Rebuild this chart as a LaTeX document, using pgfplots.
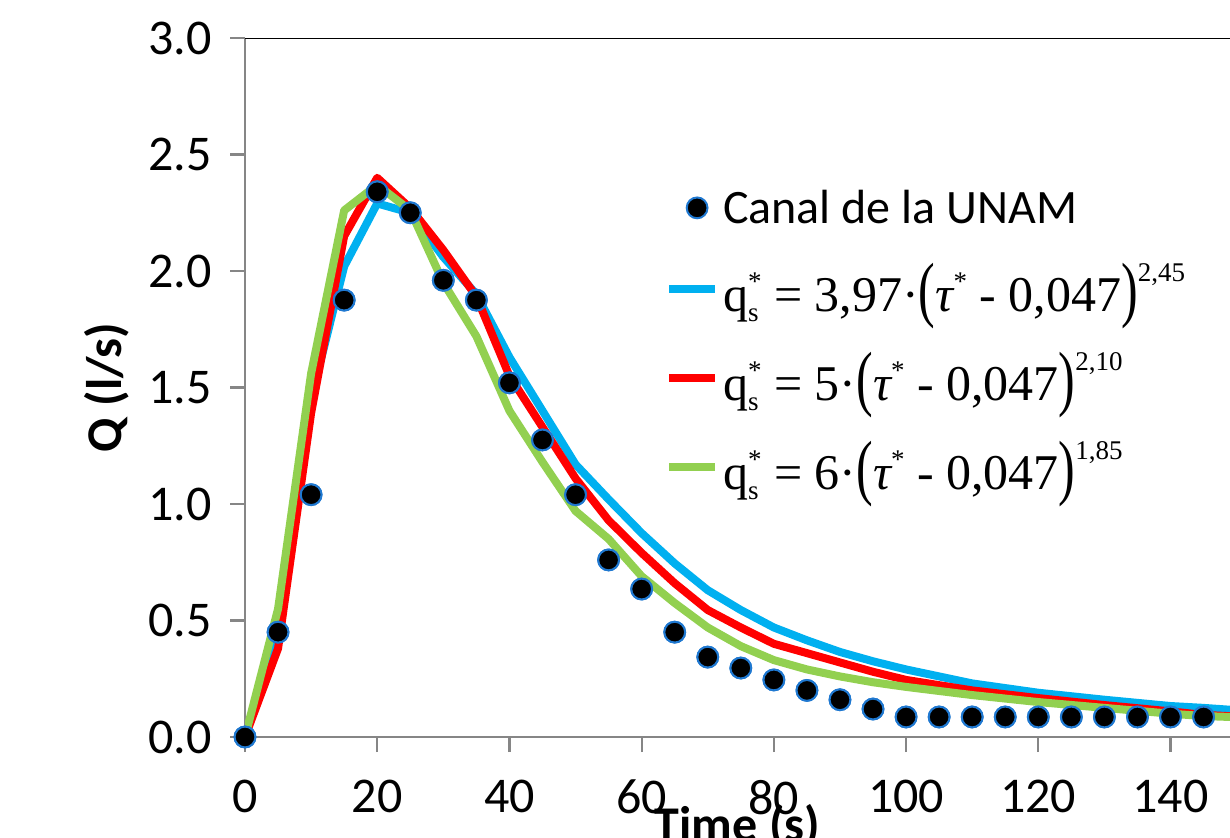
\documentclass[border=0pt]{standalone}
\usepackage{fontspec}
\setmainfont{Carlito}
\newfontfamily\tnr{Liberation Serif}
\usepackage{pgfplots}
\pgfplotsset{compat=1.18}
\definecolor{cblue}{HTML}{00B0F0}
\definecolor{cred}{HTML}{FF0000}
\definecolor{cgreen}{HTML}{92D050}
\definecolor{medge}{HTML}{1F78D0}
\definecolor{axgray}{HTML}{868686}

\pgfplotsset{
  linelegend/.style={legend image code/.code={\draw[##1] (0pt,0pt) -- (23pt,0pt);}},
  dotlegend/.style={legend image code/.code={\draw[##1] plot coordinates {(14pt,0pt)};}},
  dots/.style={only marks,mark=*,mark size=5.2pt,
    mark options={fill=black,draw=medge,line width=1pt}},
}

\newcommand\sm{\fontsize{13.5}{15}\selectfont}
\newcommand\qs{q\rlap{\raisebox{-5pt}{\sm s}}\raisebox{10.5pt}{\sm *}}
\newcommand\tst{{\itshape τ}\raisebox{10.5pt}{\sm *}}
\newcommand\bp[1]{\raisebox{-0.7pt}{\scalebox{1}[1.45]{#1}}}
\newcommand\eqn[2]{{\tnr\fontsize{25}{27}\selectfont\qs\ = #1·\bp{(}\tst\ - 0,047\bp{)}\raisebox{15pt}{\sm #2}}}

% measured series
\pgfplotstableread{
t    q
0    0
5    0.45
10   1.04
15   1.875
20   2.34
25   2.25
30   1.96
35   1.875
40   1.52
45   1.275
50   1.04
55   0.76
60   0.635
65   0.45
70   0.343
75   0.296
80   0.245
85   0.20
90   0.16
95   0.12
100  0.086
105  0.086
110  0.086
115  0.086
120  0.086
125  0.086
130  0.086
135  0.086
140  0.086
145  0.086
}\canal

% model curves: blue, red, green
\pgfplotstableread{
t    b      r      g
0    0      0      0
5    0.45   0.38   0.55
10   1.45   1.39   1.56
15   2.02   2.15   2.26
20   2.29   2.40   2.37
25   2.25   2.27   2.26
30   2.06   2.09   1.95
35   1.90   1.89   1.72
40   1.63   1.55   1.40
45   1.40   1.33   1.18
50   1.17   1.11   0.97
55   1.02   0.93   0.85
60   0.875  0.79   0.69
65   0.745  0.66   0.575
70   0.63   0.545  0.47
75   0.545  0.47   0.39
80   0.47   0.40   0.33
85   0.415  0.36   0.29
90   0.365  0.32   0.26
95   0.325  0.28   0.235
100  0.29   0.245  0.215
110  0.23   0.20   0.18
120  0.19   0.167  0.15
130  0.16   0.137  0.125
140  0.133  0.11   0.10
145  0.125  0.095  0.09
150  0.115  0.088  0.085
}\models

\begin{document}
\begin{tikzpicture}
\useasboundingbox (0,0) rectangle (615pt,418.5pt);
\clip (0,0) rectangle (615pt,418.5pt);
\begin{axis}[
  at={(122.5pt,50pt)},anchor=south west,
  scale only axis,
  width=492.5pt,height=349.5pt,
  xmin=0,xmax=149,ymin=0,ymax=3,
  axis lines*=left,
  axis line style={axgray,line width=1.1pt},
  every tick/.style={axgray,line width=1.1pt},
  tick align=outside,
  major tick length=7.5pt,
  xtick={0,20,...,140},
  ytick={0,0.5,...,3},
  /pgf/number format/assume math mode=true,
  tick label style={font=\fontsize{25}{28}\selectfont},
  yticklabel style={xshift=-5.5pt,/pgf/number format/.cd,fixed,fixed zerofill,precision=1},
  xticklabel style={yshift=-10.5pt},
  xlabel={\textbf{Time (s)}},
  ylabel={\textbf{Q (l/s)}},
  label style={font=\fontsize{25}{28}\selectfont},
  xlabel style={at={(axis description cs:0.5,-0.150)},anchor=base},
  ylabel style={at={(axis description cs:-0.14,0.5)},anchor=center},
  legend style={at={(rel axis cs:0.42,0.795)},anchor=north west,
    draw=none,fill=none,font=\fontsize{24}{26}\selectfont,row sep=14.5pt},
  legend cell align=left,
]
\draw[black,line width=0.8pt] (rel axis cs:0,1) -- (rel axis cs:1,1);
\addplot[dots,dotlegend] table[x=t,y=q] {\canal};
\addlegendentry{Canal de la UNAM}
\addplot[cblue,line width=4pt,line join=round,linelegend] table[x=t,y=b] {\models};
\addlegendentry{\eqn{3,97}{2,45}}
\addplot[cred,line width=4pt,line join=round,linelegend] table[x=t,y=r] {\models};
\addlegendentry{\eqn{5}{2,10}}
\addplot[cgreen,line width=4pt,line join=round,linelegend] table[x=t,y=g] {\models};
\addlegendentry{\eqn{6}{1,85}}
\addplot[dots,forget plot] table[x=t,y=q] {\canal};
\end{axis}
\end{tikzpicture}
\end{document}
